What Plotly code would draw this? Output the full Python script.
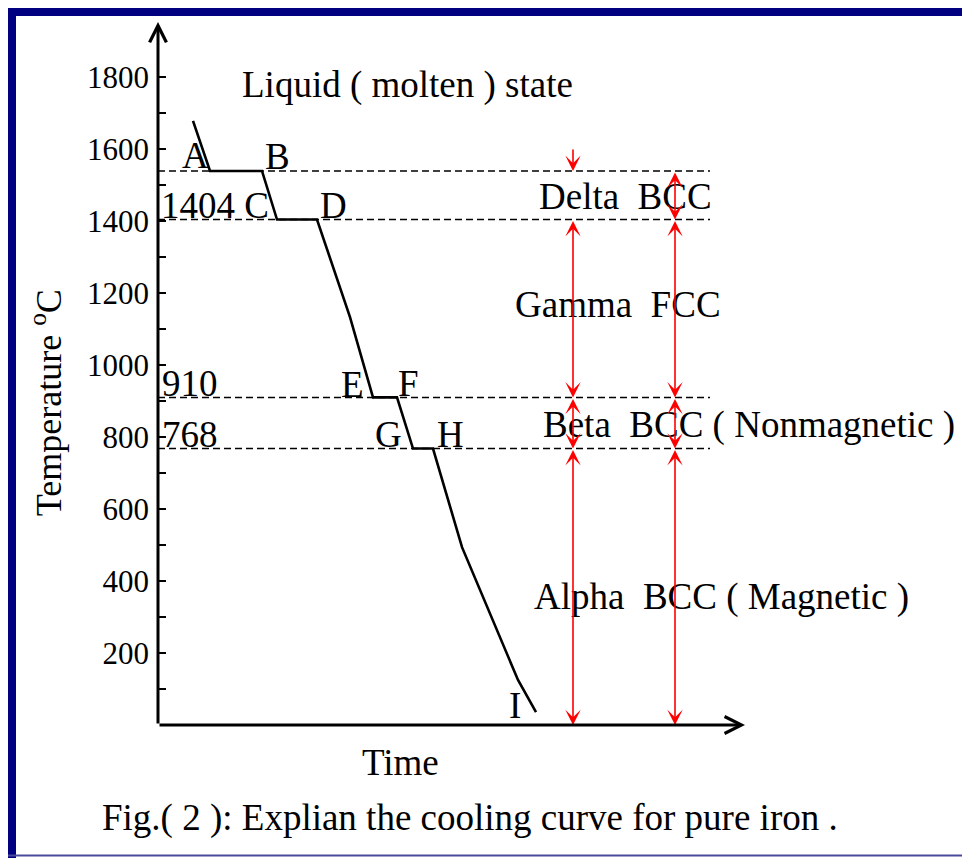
import plotly.graph_objects as go

# cooling curve of pure iron (time in arbitrary units, temperature in deg C)
curve_time = [35, 52, 104, 119, 159, 192, 215, 239, 255, 275, 304, 360, 378]
curve_temp = [1678, 1539, 1539, 1404, 1404, 1133, 910, 910, 768, 768, 494, 125, 36]

# transformation temperatures (dashed lines)
phase_temps = [1539, 1404, 910, 768]
dash_end = 552

# red range arrows: column, upper temp, lower temp, double headed?
arrow_x = [415, 415, 415, 415, 517, 517, 517, 517]
arrow_top = [1603, 1404, 910, 768, 1539, 1404, 910, 768]
arrow_bottom = [1539, 910, 768, 0, 1404, 910, 768, 0]
arrow_double = [False, True, True, True, True, True, True, True]

tick_vals = [200, 400, 600, 800, 1000, 1200, 1400, 1600, 1800]
minor_vals = [100, 300, 500, 700, 900, 1100, 1300, 1500, 1700]

# text labels: (text, time, temp)
labels = [
    ("Liquid ( molten ) state", 249, 1778),
    ("A", 37, 1581),
    ("B", 119, 1578),
    ("1404 C", 57, 1444),
    ("D", 175, 1444),
    ("910", 32, 950),
    ("E", 194, 947),
    ("F", 250, 950),
    ("768", 32, 806),
    ("G", 230, 806),
    ("H", 292, 806),
    ("I", 357, 53),
    ("Delta  BCC", 467, 1467),
    ("Gamma  FCC", 460, 1167),
    ("Beta  BCC ( Nonmagnetic )", 591, 833),
    ("Alpha  BCC ( Magnetic )", 563, 356),
    ("Time", 242, -103),
    ("Fig.( 2 ): Explian the cooling curve for pure iron .", 312, -258),
]

FONT = "Liberation Serif, Times New Roman, serif"
W, H = 962, 850          # page body has an 8px margin
ML, MR, MT, MB = 150, 225, 14, 133
XMAX = W - ML - MR
YMAX = (H - MT - MB) / 0.36


def paper_x(px):
    return (px - ML) / (W - ML - MR)


def paper_y(py):
    return (H - MB - py) / (H - MT - MB)


fig = go.Figure()

for t in phase_temps:
    fig.add_trace(go.Scatter(x=[0, dash_end], y=[t, t], mode="lines",
                             line=dict(color="black", width=1.5, dash="7px,4px"),
                             hoverinfo="skip", showlegend=False))

fig.add_trace(go.Scatter(x=curve_time, y=curve_temp, mode="lines",
                         line=dict(color="black", width=2.6),
                         showlegend=False))

ann = []
for text, tx, ty in labels:
    ann.append(dict(x=tx / XMAX, y=ty / YMAX, xref="paper", yref="paper", text=text,
                    xanchor="center", yanchor="middle", showarrow=False,
                    font=dict(family=FONT, size=37, color="black")))

ann.append(dict(x=-112 / XMAX, y=894 / YMAX, xref="paper", yref="paper",
                text="Temperature <sup>o</sup>C", textangle=-90, showarrow=False,
                xanchor="center", yanchor="middle",
                font=dict(family=FONT, size=36, color="black")))

for xa, top, bot, dbl in zip(arrow_x, arrow_top, arrow_bottom, arrow_double):
    ann.append(dict(x=xa, y=bot, ax=xa, ay=top, xref="x", yref="y", axref="x", ayref="y",
                    text="", showarrow=True, arrowcolor="red", arrowwidth=1.6,
                    arrowhead=3, arrowsize=1.6, startarrowhead=3, startarrowsize=1.6,
                    arrowside="end+start" if dbl else "end",
                    standoff=0, startstandoff=0, font=dict(size=1)))

# axes with arrow heads
ann.append(dict(x=0, y=YMAX, ax=0, ay=0, xref="x", yref="y", axref="x", ayref="y",
                text="", showarrow=True, arrowcolor="black", arrowwidth=3,
                arrowhead=5, arrowsize=1.1, standoff=0, font=dict(size=1)))
ann.append(dict(x=XMAX, y=0, ax=0, ay=0, xref="x", yref="y", axref="x", ayref="y",
                text="", showarrow=True, arrowcolor="black", arrowwidth=3,
                arrowhead=5, arrowsize=1.1, standoff=0, font=dict(size=1)))

navy = "#000080"
shapes = [
    dict(type="rect", xref="paper", yref="paper", x0=paper_x(0), x1=paper_x(W + 5),
         y0=paper_y(8), y1=paper_y(0), fillcolor=navy, line=dict(width=0)),
    dict(type="rect", xref="paper", yref="paper", x0=paper_x(0), x1=paper_x(8),
         y0=paper_y(H + 5), y1=paper_y(0), fillcolor=navy, line=dict(width=0)),
    dict(type="line", xref="paper", yref="paper", x0=paper_x(0), x1=paper_x(W + 5),
         y0=paper_y(847.5), y1=paper_y(847.5), line=dict(color="#4a4a9a", width=2)),
]

fig.update_layout(
    width=W, height=H,
    margin=dict(l=ML, r=MR, t=MT, b=MB),
    paper_bgcolor="white", plot_bgcolor="white",
    annotations=ann, shapes=shapes,
    showlegend=False,
)
fig.update_xaxes(range=[0, XMAX], showgrid=False, zeroline=False, showline=False,
                 showticklabels=False, ticks="")
fig.update_yaxes(range=[0, YMAX], showgrid=False, zeroline=False, showline=False,
                 tickmode="array", tickvals=tick_vals, ticks="inside", ticklen=8,
                 tickwidth=2, tickcolor="black", ticklabelstandoff=8,
                 tickfont=dict(family=FONT, size=31, color="black"),
                 minor=dict(tickmode="array", tickvals=minor_vals, ticks="inside",
                            ticklen=8, tickwidth=2, tickcolor="black"))

fig.write_html("out.html")
